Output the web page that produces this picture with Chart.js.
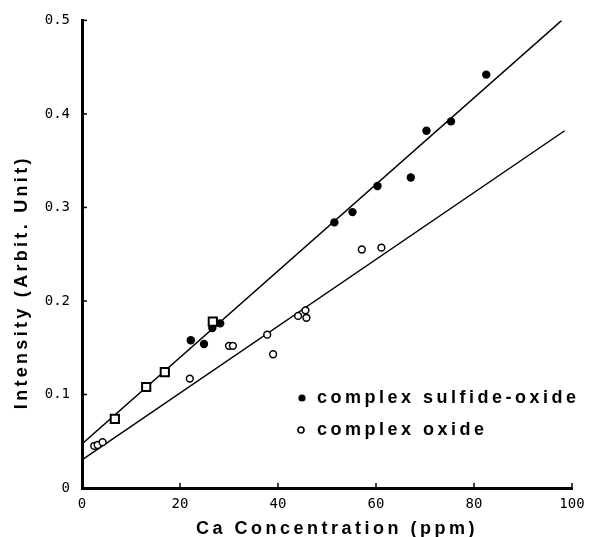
<!DOCTYPE html>
<html>
<head>
<meta charset="utf-8">
<script src="https://cdn.jsdelivr.net/npm/chart.js@4.4.1/dist/chart.umd.min.js"></script>
<style>
  html, body { margin: 0; padding: 0; background: #fff; }
  #wrap { position: relative; width: 598px; height: 537px; }
</style>
</head>
<body>
<div id="wrap"><canvas id="caChart" width="598" height="537"></canvas></div>
<script>
// ---- values ----
const xTicks = [0, 20, 40, 60, 80, 100];
const yTicks = [0, 0.1, 0.2, 0.3, 0.4, 0.5];

// complex sulfide-oxide (filled circles)
const sulfideX = [22.2, 24.9, 26.6, 28.2, 51.5, 55.2, 60.3, 67.1, 70.3, 75.3, 82.5];
const sulfideY = [0.158, 0.154, 0.171, 0.176, 0.284, 0.295, 0.323, 0.332, 0.382, 0.392, 0.442];

// complex oxide (open circles)
const oxideX = [2.5, 3.2, 4.2, 22.0, 30.0, 30.8, 37.8, 39.0, 44.1, 45.6, 45.8, 57.1, 61.1];
const oxideY = [0.045, 0.046, 0.049, 0.117, 0.152, 0.152, 0.164, 0.143, 0.184, 0.190, 0.182, 0.255, 0.257];

// open squares sitting on the upper line
const squareX = [6.7, 13.1, 16.9, 26.7];
const squareY = [0.074, 0.108, 0.124, 0.178];

// fitted lines (end points)
const sulfideFitX = [0, 97.9];
const sulfideFitY = [0.047, 0.5];
const oxideFitX = [0, 98.5];
const oxideFitY = [0.030, 0.382];

const xTitle = "Ca Concentration (ppm)";
const yTitle = "Intensity (Arbit. Unit)";

const toPts = (xs, ys) => xs.map((x, i) => ({ x: x, y: ys[i] }));

// axis titles, inward ticks and the in-plot legend
const inkPlugin = {
    id: "ink",
    afterDraw(chart) {
        const { ctx, chartArea, scales } = chart;
        ctx.save();

        // inward tick marks
        ctx.strokeStyle = "#000";
        ctx.lineWidth = 1.5;
        xTicks.forEach(v => {
            const px = scales.x.getPixelForValue(v);
            ctx.beginPath();
            ctx.moveTo(px, chartArea.bottom);
            ctx.lineTo(px, chartArea.bottom - 5);
            ctx.stroke();
        });
        yTicks.forEach(v => {
            const py = scales.y.getPixelForValue(v);
            ctx.beginPath();
            ctx.moveTo(chartArea.left, py);
            ctx.lineTo(chartArea.left + 5, py);
            ctx.stroke();
        });

        // axis titles
        ctx.fillStyle = "#000";
        ctx.font = "bold 18px 'Liberation Sans', Arial, sans-serif";
        ctx.letterSpacing = "3.5px";
        ctx.textAlign = "center";
        ctx.textBaseline = "alphabetic";
        ctx.fillText(xTitle, (chartArea.left + chartArea.right) / 2 + 10, chart.height - 3);

        ctx.save();
        ctx.translate(27, (chartArea.top + chartArea.bottom) / 2 + 28);
        ctx.rotate(-Math.PI / 2);
        ctx.letterSpacing = "3.3px";
        ctx.fillText(yTitle, 0, 0);
        ctx.restore();

        // legend
        const ds = chart.data.datasets;
        ctx.textAlign = "left";
        ctx.letterSpacing = "3.5px";
        ctx.fillText(ds[0].label, 317, 403);
        ctx.fillText(ds[1].label, 317, 435);

        ctx.beginPath();
        ctx.arc(302, 398, 3.6, 0, Math.PI * 2);
        ctx.fill();
        ctx.beginPath();
        ctx.lineWidth = 1.6;
        ctx.arc(301, 430, 3, 0, Math.PI * 2);
        ctx.stroke();

        ctx.restore();
    }
};

const ctx = document.getElementById("caChart").getContext("2d");
new Chart(ctx, {
    type: "scatter",
    data: {
        datasets: [
            {
                label: "complex sulfide-oxide",
                data: toPts(sulfideX, sulfideY),
                pointStyle: "circle",
                pointRadius: 4.2,
                backgroundColor: "#000",
                borderColor: "#000",
                borderWidth: 0,
                order: 1
            },
            {
                label: "complex oxide",
                data: toPts(oxideX, oxideY),
                pointStyle: "circle",
                pointRadius: 3.4,
                backgroundColor: "#fff",
                borderColor: "#000",
                borderWidth: 1.5,
                order: 2
            },
            {
                label: "standard",
                data: toPts(squareX, squareY),
                pointStyle: "rect",
                pointRadius: 5.8,
                backgroundColor: "#fff",
                borderColor: "#000",
                borderWidth: 2,
                order: 0
            },
            {
                type: "line",
                label: "fit sulfide-oxide",
                data: toPts(sulfideFitX, sulfideFitY),
                borderColor: "#000",
                borderWidth: 1.5,
                pointRadius: 0,
                fill: false,
                order: 5
            },
            {
                type: "line",
                label: "fit oxide",
                data: toPts(oxideFitX, oxideFitY),
                borderColor: "#000",
                borderWidth: 1.5,
                pointRadius: 0,
                fill: false,
                order: 5
            }
        ]
    },
    options: {
        responsive: false,
        animation: false,
        devicePixelRatio: 1,
        layout: { padding: { top: 15, right: 26, left: 0, bottom: 0 } },
        plugins: {
            legend: { display: false },
            tooltip: { enabled: false }
        },
        scales: {
            x: {
                type: "linear",
                min: 0,
                max: 100,
                afterFit: s => { s.height = 49; },
                afterBuildTicks: s => { s.ticks = xTicks.map(v => ({ value: v })); },
                grid: { display: false, drawTicks: false },
                border: { display: true, color: "#000", width: 3 },
                ticks: {
                    padding: 8,
                    color: "#000",
                    font: { family: "'DejaVu Sans Mono', monospace", size: 14 }
                }
            },
            y: {
                type: "linear",
                min: 0,
                max: 0.5,
                afterFit: s => { s.width = 82; },
                afterBuildTicks: s => { s.ticks = yTicks.map(v => ({ value: v })); },
                grid: { display: false, drawTicks: false },
                border: { display: true, color: "#000", width: 3 },
                ticks: {
                    padding: 12,
                    color: "#000",
                    font: { family: "'DejaVu Sans Mono', monospace", size: 14 },
                    callback: v => String(v)
                }
            }
        }
    },
    plugins: [inkPlugin]
});
</script>
</body>
</html>
